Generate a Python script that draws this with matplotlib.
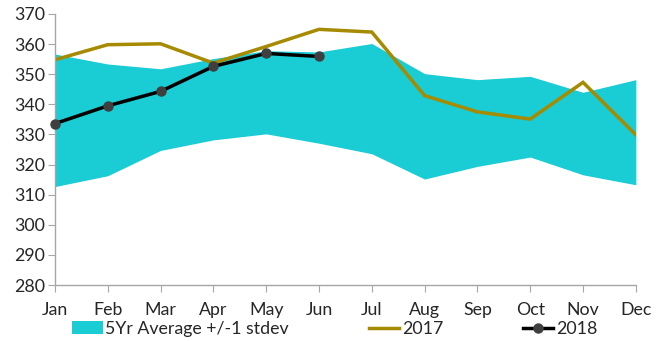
import matplotlib
matplotlib.use("Agg")
import matplotlib.pyplot as plt
from matplotlib.lines import Line2D
from matplotlib.patches import Patch

months = ["Jan", "Feb", "Mar", "Apr", "May", "Jun",
          "Jul", "Aug", "Sep", "Oct", "Nov", "Dec"]
band_upper = [356.7, 353.4, 351.8, 355.2, 357.8, 357.4, 360.2, 350.2, 348.2, 349.3, 344.0, 348.2]
band_lower = [312.7, 316.3, 324.7, 328.2, 330.2, 327.1, 323.6, 315.2, 319.4, 322.5, 316.6, 313.3]
y2017 = [354.8, 359.8, 360.1, 353.7, 359.2, 364.9, 364.0, 342.9, 337.5, 335.1, 347.3, 329.9]
y2018 = [333.6, 339.5, 344.3, 352.6, 356.9, 355.9]
yticks = list(range(280, 371, 10))

band_color = "#1ACCD4"
c2017 = "#A68A00"
c2018 = "#000000"
marker_color = "#3F3F3F"
text_color = "#262626"
axis_color = "#A6A6A6"

plt.rcParams["font.family"] = ["Lato", "DejaVu Sans"]
fs = 12.8

fig = plt.figure(figsize=(6.70, 3.41), dpi=100)
ax = fig.add_axes([0.082, 0.164, 0.867, 0.795])

x = list(range(len(months)))
ax.fill_between(x, band_lower, band_upper, color=band_color, linewidth=0)
ax.plot(x, y2017, color=c2017, linewidth=2.5, solid_joinstyle="miter")
ax.plot(x[:len(y2018)], y2018, color=c2018, linewidth=2.5,
        marker="o", markersize=6.5, markerfacecolor=marker_color,
        markeredgecolor=marker_color, clip_on=False, zorder=4)

ax.set_xlim(0, len(months) - 1)
ax.set_ylim(280, 370)
ax.set_xticks(x)
ax.set_xticklabels(months)
ax.set_yticks(yticks)

for side in ("top", "right"):
    ax.spines[side].set_visible(False)
for side in ("left", "bottom"):
    ax.spines[side].set_color(axis_color)
    ax.spines[side].set_linewidth(1.0)
ax.tick_params(axis="both", colors=axis_color, labelcolor=text_color,
               labelsize=fs, length=5, direction="out")
ax.tick_params(axis="x", pad=7)
ax.tick_params(axis="y", pad=2)

handles = [
    Patch(facecolor=band_color, edgecolor="none"),
    Line2D([], [], color=c2017, linewidth=2.5),
    Line2D([], [], color=c2018, linewidth=2.5, marker="o", markersize=6.5,
           markerfacecolor=marker_color, markeredgecolor=marker_color),
]
labels = ["5Yr Average +/-1 stdev", "2017", "2018"]
fig.legend(handles, labels, loc="lower center", bbox_to_anchor=(0.5, -0.035),
           ncol=3, frameon=False, fontsize=fs, handlelength=1.7,
           handletextpad=0.15, columnspacing=4.5, labelcolor=text_color)

fig.savefig("out.png", dpi=100)
